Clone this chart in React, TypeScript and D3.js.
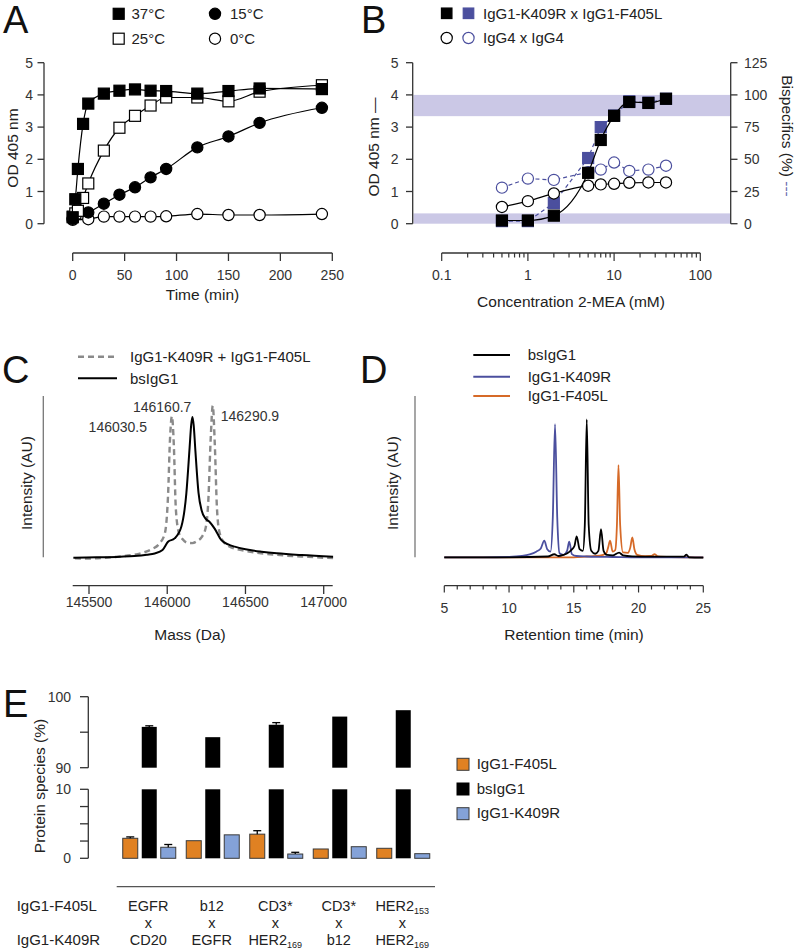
import React from 'react';
import * as d3 from 'd3';

const FONT = "'Liberation Sans', Arial, Helvetica, sans-serif";

// ---------- Panel A ----------
const timeSq = [0, 2.5, 5, 10, 15, 30, 45, 60, 75, 90, 120, 150, 180, 240];
const od37 = [0.2, 0.76, 1.7, 3.1, 3.73, 4.04, 4.13, 4.17, 4.13, 4.12, 4.04, 4.12, 4.2, 4.18];
const od25 = [0.22, 0.32, 0.4, 0.8, 1.25, 2.27, 2.98, 3.35, 3.67, 3.92, 3.92, 3.8, 4.1, 4.3];
const timeCirc = [0, 15, 30, 45, 60, 75, 90, 120, 150, 180, 240];
const od15 = [0.15, 0.35, 0.62, 0.9, 1.13, 1.44, 1.7, 2.37, 2.71, 3.13, 3.6];
const od0 = [0.12, 0.14, 0.22, 0.22, 0.22, 0.22, 0.23, 0.3, 0.27, 0.27, 0.3];
const ticksA_x = [0, 50, 100, 150, 200, 250];
const ticksA_y = [0, 1, 2, 3, 4, 5];

// ---------- Panel B ----------
const concMEA = [0.5, 1, 2, 5, 7, 10, 15, 25, 40];
const odIgG1 = [0.1, 0.1, 0.25, 1.58, 2.6, 3.35, 3.78, 3.75, 3.88];
const bsIgG1Pct = [2, 2, 16, 51, 75, 84, 95, 94, 97];
const odIgG4 = [0.52, 0.7, 0.94, 1.18, 1.22, 1.24, 1.27, 1.28, 1.28];
const bsIgG4Pct = [28, 35, 34, 40, 42, 47.5, 41, 42, 45];
const bandLow = [0, 8];
const bandHigh = [83.5, 100];
const ticksB_pct = [0, 25, 50, 75, 100, 125];
const ticksB_major = [0.1, 1, 10, 100];

// ---------- Panel C ----------
const massDashed = [145410, 145500, 145600, 145700, 145800, 145850, 145900, 145950, 145985, 146005, 146018, 146030, 146042, 146055, 146075, 146100, 146130, 146160, 146190, 146220, 146245, 146262, 146278, 146291, 146304, 146318, 146335, 146365, 146400, 146450, 146500, 146600, 146700, 146800, 146900, 147000, 147060];
const intDashed = [-0.6, -0.8, -0.3, 0.5, 1.8, 3, 5, 8.5, 15, 38, 74, 87.5, 70, 30, 15, 11, 9, 8.8, 10, 12.5, 18, 34, 74, 94, 70, 30, 15, 9, 6.5, 5, 4, 2.5, 1.5, 0.8, 0.3, -0.3, -0.5];
const massSolid = [145400, 145550, 145700, 145790, 145870, 145920, 145970, 146005, 146047, 146090, 146122, 146143, 146153, 146161, 146169, 146180, 146200, 146220, 146245, 146271, 146303, 146346, 146390, 146431, 146500, 146603, 146700, 146859, 147060];
const intSolid = [-0.3, 0, 0.4, 0.8, 1.6, 2.4, 4.5, 9.6, 11.7, 18.9, 39.5, 68, 82, 87, 82, 66, 40, 29, 24, 21.9, 17.8, 10.6, 8, 6.6, 5, 3.5, 2.5, 1.4, 0.4];
const peakLabels = ['146030.5', '146160.7', '146290.9'];
const peakMass = [146030.5, 146160.7, 146290.9];
const ticksC = [145500, 146000, 146500, 147000];

// ---------- Panel D ----------
const tK409R = [5, 8, 10, 11, 11.6, 12.1, 12.45, 12.72, 12.95, 13.2, 13.38, 13.55, 13.72, 13.9, 14.2, 14.48, 14.65, 14.85, 15.2, 16, 17, 18, 20, 22, 25];
const iK409R = [0, 0, 0.2, 0.8, 1.8, 3.5, 5.5, 10.3, 5, 3.5, 25, 82.6, 25, 2.5, 1.5, 4, 9.7, 2, 0.8, 0.5, 0.3, 0.2, 0, 0, 0];
const tBs = [5, 10, 13, 13.5, 13.8, 14.2, 14.5, 14.8, 15.05, 15.22, 15.45, 15.7, 15.85, 16.0, 16.15, 16.35, 16.65, 16.9, 17.1, 17.3, 17.55, 18, 18.5, 18.8, 19.5, 21, 23.5, 23.7, 23.9, 25];
const iBs = [0, 0, 0.5, 1.9, 0.8, 1.5, 2.5, 4.5, 7, 13, 5, 4, 20, 85.5, 20, 4, 2.2, 4, 17.4, 4, 1.5, 1.2, 2.9, 1.2, 0.6, 0.4, 0.4, 1.7, 0, -0.2];
const tF405L = [5, 15, 16, 17, 17.5, 17.65, 17.8, 18.0, 18.2, 18.33, 18.45, 18.58, 18.8, 19.2, 19.36, 19.52, 19.68, 19.9, 20.5, 21, 21.25, 21.5, 22.5, 25];
const iF405L = [0, 0, 0.5, 1, 2.5, 6, 10.3, 3.5, 4.5, 20, 57.2, 20, 3, 2.8, 6, 12.4, 5, 1.5, 0.7, 0.8, 2, 0.5, 0.2, 0];
const ticksD_major = [5, 10, 15, 20, 25];
const ticksD_minor = d3.range(5, 26, 1);

// ---------- Panel E ----------
const catF405L = ['EGFR', 'b12', 'CD3*', 'CD3*', 'HER2'];
const subF405L = ['', '', '', '', '153'];
const catK409R = ['CD20', 'EGFR', 'HER2', 'b12', 'HER2'];
const subK409R = ['', '', '169', '', '169'];
const valF405L = [2.9, 2.55, 3.5, 1.35, 1.45];
const errF405L = [0.2, 0, 0.5, 0, 0];
const valBs = [95.75, 94.3, 96.05, 97.2, 98.1];
const errBs = [0.15, 0, 0.3, 0, 0];
const valK409R = [1.6, 3.4, 0.62, 1.68, 0.67];
const errK409R = [0.4, 0, 0.25, 0, 0];
const seriesE = ['IgG1-F405L', 'bsIgG1', 'IgG1-K409R'];
const colorsE = ['#e08122', '#000000', '#84a2d8'];

const BLUE = '#4b4f9e';
const ORANGE = '#d66a28';

function Sq({ x, y, s = 11, fill = '#000', stroke = '#000' }: any) {
  return <rect x={x - s / 2} y={y - s / 2} width={s} height={s} fill={fill} stroke={stroke} strokeWidth={1.2} />;
}
function Ci({ x, y, r = 5.6, fill = '#000', stroke = '#000' }: any) {
  return <circle cx={x} cy={y} r={r} fill={fill} stroke={stroke} strokeWidth={1.2} />;
}

export default function App() {
  const tick = { fontFamily: FONT, fontSize: 14, fill: '#333' } as any;
  const title = { fontFamily: FONT, fontSize: 15.5, fill: '#222' } as any;
  const leg = { fontFamily: FONT, fontSize: 15, fill: '#222' } as any;
  const cat = { fontFamily: FONT, fontSize: 14.5, fill: '#222' } as any;
  const big = { fontFamily: FONT, fontSize: 38, fill: '#111' } as any;
  const axisCol = '#333';

  // A scales
  const xA = d3.scaleLinear().domain([0, 250]).range([72.7, 332.3]);
  const yA = d3.scaleLinear().domain([0, 5]).range([223.7, 62.7]);
  const lineA = (xs: number[], ys: number[]) =>
    d3.line<number>().x((_, i) => xA(xs[i])).y((d) => yA(d)).curve(d3.curveMonotoneX)(ys) || '';

  // B scales
  const xB = d3.scaleLog().domain([0.1, 100]).range([441.7, 700.3]);
  const yB = d3.scaleLinear().domain([0, 5]).range([223.7, 62.7]);
  const yBr = d3.scaleLinear().domain([0, 125]).range([223.7, 62.7]);
  const lineB = (ys: number[], y: any, curve: any) =>
    d3.line<number>().x((_, i) => xB(concMEA[i])).y((d) => y(d)).curve(curve)(ys) || '';
  const minorB = xB.ticks();

  // C scales
  const xC = d3.scaleLinear().domain([145500, 147000]).range([89, 323.7]);
  const yC = d3.scaleLinear().domain([0, 100]).range([557.3, 396]);
  const lineC = (xs: number[], ys: number[]) =>
    d3.line<number>().x((_, i) => xC(xs[i])).y((d) => yC(d)).curve(d3.curveMonotoneX)(ys) || '';

  // D scales
  const xD = d3.scaleLinear().domain([5, 25]).range([444.3, 703.3]);
  const yD = d3.scaleLinear().domain([0, 100]).range([557.3, 396]);
  const lineD = (xs: number[], ys: number[]) =>
    d3.line<number>().x((_, i) => xD(xs[i])).y((d) => yD(d)).curve(d3.curveMonotoneX)(ys) || '';

  // E scales
  const xE = d3.scaleBand<number>().domain(d3.range(5)).range([117.5, 435]);
  const xInner = d3.scaleBand<string>().domain(seriesE).range([-26.5, 26.5]).paddingInner(0.2105);
  const yLo = d3.scaleLinear().domain([0, 10]).range([858.3, 789.3]);
  const yHi = d3.scaleLinear().domain([90, 100]).range([767.7, 696.7]);
  const valsE = [valF405L, valBs, valK409R];
  const errsE = [errF405L, errBs, errK409R];

  return (
    <svg width={799} height={952} style={{ position: 'absolute', left: 0, top: 0, background: '#fff' }}>
      <rect x={0} y={0} width={799} height={952} fill="#fff" />

      {/* ================= A ================= */}
      <text x={3} y={33} {...big}>A</text>
      <Sq x={118.7} y={13.8} />
      <text x={131.5} y={19} {...leg}>37°C</text>
      <Sq x={118.7} y={38.7} fill="#fff" />
      <text x={131.5} y={44} {...leg}>25°C</text>
      <Ci x={215} y={13.8} />
      <text x={230} y={19} {...leg}>15°C</text>
      <Ci x={215} y={38.7} fill="#fff" />
      <text x={230} y={44} {...leg}>0°C</text>

      <line x1={44} x2={44} y1={yA(5)} y2={yA(0)} stroke={axisCol} strokeWidth={1.3} />
      {ticksA_y.map((t) => (
        <g key={t}>
          <line x1={37.5} x2={44} y1={yA(t)} y2={yA(t)} stroke={axisCol} strokeWidth={1.3} />
          <text x={33} y={yA(t) + 5} textAnchor="end" {...tick}>{t}</text>
        </g>
      ))}
      <line x1={xA(0)} x2={xA(250)} y1={253} y2={253} stroke={axisCol} strokeWidth={1.3} />
      {ticksA_x.map((t) => (
        <g key={t}>
          <line x1={xA(t)} x2={xA(t)} y1={253} y2={261} stroke={axisCol} strokeWidth={1.3} />
          <text x={xA(t)} y={280} textAnchor="middle" {...tick}>{t}</text>
        </g>
      ))}
      <text x={xA(125)} y={300} textAnchor="middle" {...title}>Time (min)</text>
      <text transform="translate(18,148) rotate(-90)" textAnchor="middle" {...title}>OD 405 nm</text>

      <path d={lineA(timeCirc, od0)} fill="none" stroke="#000" strokeWidth={1.2} />
      <path d={lineA(timeCirc, od15)} fill="none" stroke="#000" strokeWidth={1.2} />
      <path d={lineA(timeSq, od25)} fill="none" stroke="#000" strokeWidth={1.2} />
      <path d={lineA(timeSq, od37)} fill="none" stroke="#000" strokeWidth={1.2} />
      {timeCirc.map((t, i) => <Ci key={'a0' + i} x={xA(t)} y={yA(od0[i])} fill="#fff" />)}
      {timeCirc.map((t, i) => <Ci key={'a15' + i} x={xA(t)} y={yA(od15[i])} />)}
      {timeSq.map((t, i) => <Sq key={'a25' + i} x={xA(t)} y={yA(od25[i])} fill="#fff" />)}
      {timeSq.map((t, i) => <Sq key={'a37' + i} x={xA(t)} y={yA(od37[i])} />)}

      {/* ================= B ================= */}
      <text x={361} y={33} {...big}>B</text>
      <Sq x={446.7} y={13.3} s={10.5} />
      <Sq x={468.5} y={13.3} s={10.5} fill={BLUE} stroke={BLUE} />
      <text x={483} y={18.5} {...leg}>IgG1-K409R x IgG1-F405L</text>
      <Ci x={446.7} y={38} fill="#fff" />
      <Ci x={468.5} y={38} fill="#fff" stroke={BLUE} />
      <text x={483} y={43} {...leg}>IgG4 x IgG4</text>

      <rect x={413.5} width={317} y={yBr(bandHigh[1])} height={yBr(bandHigh[0]) - yBr(bandHigh[1])} fill="#cbc8e6" />
      <rect x={413.5} width={317} y={yBr(bandLow[1])} height={yBr(bandLow[0]) - yBr(bandLow[1])} fill="#cbc8e6" />

      <line x1={412.7} x2={412.7} y1={yB(5)} y2={yB(0)} stroke={axisCol} strokeWidth={1.3} />
      {ticksA_y.map((t) => (
        <g key={'bl' + t}>
          <line x1={406} x2={412.7} y1={yB(t)} y2={yB(t)} stroke={axisCol} strokeWidth={1.3} />
          <text x={398.5} y={yB(t) + 5} textAnchor="end" {...tick}>{t}</text>
        </g>
      ))}
      <line x1={730.7} x2={730.7} y1={yBr(125)} y2={yBr(0)} stroke={axisCol} strokeWidth={1.3} />
      {ticksB_pct.map((t) => (
        <g key={'br' + t}>
          <line x1={730.7} x2={737.5} y1={yBr(t)} y2={yBr(t)} stroke={axisCol} strokeWidth={1.3} />
          <text x={744} y={yBr(t) + 5} {...tick}>{t}</text>
        </g>
      ))}
      <line x1={xB(0.1)} x2={xB(100)} y1={253} y2={253} stroke={axisCol} strokeWidth={1.3} />
      {minorB.map((t, i) => {
        const major = ticksB_major.some((m) => Math.abs(m - t) / m < 1e-6);
        return <line key={'bm' + i} x1={xB(t)} x2={xB(t)} y1={253} y2={major ? 261 : 257.5} stroke={axisCol} strokeWidth={1.2} />;
      })}
      {ticksB_major.map((t) => (
        <text key={'bt' + t} x={xB(t)} y={280} textAnchor="middle" {...tick}>{t}</text>
      ))}
      <text x={571} y={307} textAnchor="middle" {...title}>Concentration 2-MEA (mM)</text>
      <text transform="translate(378.5,147) rotate(-90)" textAnchor="middle" {...title}>OD 405 nm —</text>
      <text transform="translate(782,136) rotate(90)" textAnchor="middle" {...title}>
        Bispecifics (%) <tspan fill="#6a6eae">---</tspan>
      </text>

      <path d={lineB(bsIgG4Pct, yBr, d3.curveLinear)} fill="none" stroke={BLUE} strokeWidth={1.2} strokeDasharray="4,3" />
      <path d={lineB(bsIgG1Pct, yBr, d3.curveLinear)} fill="none" stroke={BLUE} strokeWidth={1.2} strokeDasharray="4,3" />
      {concMEA.map((c, i) => <Ci key={'b4p' + i} x={xB(c)} y={yBr(bsIgG4Pct[i])} fill="#fff" stroke={BLUE} />)}
      {concMEA.map((c, i) => <Sq key={'b1p' + i} x={xB(c)} y={yBr(bsIgG1Pct[i])} fill={BLUE} stroke={BLUE} />)}
      <path d={lineB(odIgG4, yB, d3.curveMonotoneX)} fill="none" stroke="#000" strokeWidth={1.2} />
      <path d={lineB(odIgG1, yB, d3.curveMonotoneX)} fill="none" stroke="#000" strokeWidth={1.2} />
      {concMEA.map((c, i) => <Ci key={'b4' + i} x={xB(c)} y={yB(odIgG4[i])} fill="#fff" />)}
      {concMEA.map((c, i) => <Sq key={'b1' + i} x={xB(c)} y={yB(odIgG1[i])} />)}

      {/* ================= C ================= */}
      <text x={2} y={383} {...big}>C</text>
      <line x1={78} x2={117} y1={356.7} y2={356.7} stroke="#8a8a8a" strokeWidth={2.4} strokeDasharray="6,4" />
      <text x={130} y={361.5} {...leg}>IgG1-K409R + IgG1-F405L</text>
      <line x1={78} x2={117} y1={378.3} y2={378.3} stroke="#000" strokeWidth={2} />
      <text x={130} y={383.5} {...leg}>bsIgG1</text>

      <line x1={43.3} x2={43.3} y1={396} y2={557.3} stroke="#777" strokeWidth={1.3} />
      <text transform="translate(32,483) rotate(-90)" textAnchor="middle" {...title}>Intensity (AU)</text>
      <line x1={72.7} x2={332.7} y1={585.7} y2={585.7} stroke={axisCol} strokeWidth={1.3} />
      {ticksC.map((t) => (
        <g key={'c' + t}>
          <line x1={xC(t)} x2={xC(t)} y1={585.7} y2={594} stroke={axisCol} strokeWidth={1.3} />
          <text x={xC(t)} y={606.5} textAnchor="middle" {...tick}>{t}</text>
        </g>
      ))}
      <text x={190} y={640} textAnchor="middle" {...title}>Mass (Da)</text>

      <path d={lineC(massDashed, intDashed)} fill="none" stroke="#8a8a8a" strokeWidth={2.4} strokeDasharray="6,4" />
      <path d={lineC(massSolid, intSolid)} fill="none" stroke="#000" strokeWidth={2} />
      <text x={xC(peakMass[0]) - 25} y={432} textAnchor="end" {...tick}>{peakLabels[0]}</text>
      <text x={xC(peakMass[1]) - 1} y={411.5} textAnchor="end" {...tick}>{peakLabels[1]}</text>
      <text x={xC(peakMass[2]) + 8} y={421} {...tick}>{peakLabels[2]}</text>

      {/* ================= D ================= */}
      <text x={360} y={383} {...big}>D</text>
      <line x1={473.3} x2={510} y1={355} y2={355} stroke="#000" strokeWidth={2} />
      <text x={527.7} y={360} {...leg}>bsIgG1</text>
      <line x1={473.3} x2={510} y1={376.7} y2={376.7} stroke={BLUE} strokeWidth={2} />
      <text x={527.7} y={381.5} {...leg}>IgG1-K409R</text>
      <line x1={473.3} x2={510} y1={396} y2={396} stroke={ORANGE} strokeWidth={2} />
      <text x={527.7} y={401} {...leg}>IgG1-F405L</text>

      <line x1={415} x2={415} y1={396} y2={557.3} stroke="#777" strokeWidth={1.3} />
      <text transform="translate(398,483) rotate(-90)" textAnchor="middle" {...title}>Intensity (AU)</text>
      <line x1={xD(5)} x2={xD(25)} y1={585.7} y2={585.7} stroke={axisCol} strokeWidth={1.3} />
      {ticksD_minor.map((t) => (
        <line key={'dm' + t} x1={xD(t)} x2={xD(t)} y1={585.7} y2={t % 5 === 0 ? 592.5 : 589.5} stroke={axisCol} strokeWidth={1.2} />
      ))}
      {ticksD_major.map((t) => (
        <text key={'dt' + t} x={xD(t)} y={612.5} textAnchor="middle" {...tick}>{t}</text>
      ))}
      <text x={574} y={640} textAnchor="middle" {...title}>Retention time (min)</text>

      <path d={lineD(tF405L, iF405L)} fill="none" stroke={ORANGE} strokeWidth={1.8} />
      <path d={lineD(tK409R, iK409R)} fill="none" stroke={BLUE} strokeWidth={1.8} />
      <path d={lineD(tBs, iBs)} fill="none" stroke="#000" strokeWidth={1.8} />

      {/* ================= E ================= */}
      <text x={3} y={717} {...big}>E</text>
      <line x1={88.3} x2={88.3} y1={yHi(100)} y2={yHi(90)} stroke={axisCol} strokeWidth={1.3} />
      {[100, 95, 90].map((t) => (
        <line key={'eh' + t} x1={80} x2={88.3} y1={yHi(t)} y2={yHi(t)} stroke={axisCol} strokeWidth={1.3} />
      ))}
      <line x1={88.3} x2={88.3} y1={yLo(10)} y2={yLo(0)} stroke={axisCol} strokeWidth={1.3} />
      {[10, 7.5, 5, 2.5, 0].map((t) => (
        <line key={'el' + t} x1={80} x2={88.3} y1={yLo(t)} y2={yLo(t)} stroke={axisCol} strokeWidth={1.3} />
      ))}
      <text x={71} y={yHi(100) + 5} textAnchor="end" {...tick}>100</text>
      <text x={71} y={yHi(90) + 5} textAnchor="end" {...tick}>90</text>
      <text x={71} y={yLo(10) + 5} textAnchor="end" {...tick}>10</text>
      <text x={71} y={yLo(0) + 5} textAnchor="end" {...tick}>0</text>
      <text transform="translate(45,786) rotate(-90)" textAnchor="middle" {...title}>Protein species (%)</text>

      {d3.range(5).map((g) => {
        const cx = (xE(g) as number) + xE.bandwidth() / 2;
        return seriesE.map((s, si) => {
          const v = valsE[si][g];
          const e = errsE[si][g];
          const x0 = cx + (xInner(s) as number);
          const w = xInner.bandwidth();
          const stroke = si === 1 ? 'none' : '#3a3a3a';
          if (si === 1) {
            return (
              <g key={'e' + g + s}>
                <rect x={x0} width={w} y={yLo(10)} height={yLo(0) - yLo(10)} fill={colorsE[si]} />
                <rect x={x0} width={w} y={yHi(v)} height={yHi(90) - yHi(v)} fill={colorsE[si]} />
                {e > 0 && (
                  <g stroke="#000" strokeWidth={1.3}>
                    <line x1={x0 + w / 2} x2={x0 + w / 2} y1={yHi(v)} y2={yHi(v + e)} />
                    <line x1={x0 + w / 2 - 4} x2={x0 + w / 2 + 4} y1={yHi(v + e)} y2={yHi(v + e)} />
                  </g>
                )}
              </g>
            );
          }
          return (
            <g key={'e' + g + s}>
              <rect x={x0} width={w} y={yLo(v)} height={yLo(0) - yLo(v)} fill={colorsE[si]} stroke={stroke} strokeWidth={1} />
              {e > 0 && (
                <g stroke="#000" strokeWidth={1.3}>
                  <line x1={x0 + w / 2} x2={x0 + w / 2} y1={yLo(v)} y2={yLo(v + e)} />
                  <line x1={x0 + w / 2 - 4} x2={x0 + w / 2 + 4} y1={yLo(v + e)} y2={yLo(v + e)} />
                </g>
              )}
            </g>
          );
        });
      })}

      <line x1={116.7} x2={435} y1={886.7} y2={886.7} stroke="#555" strokeWidth={1.3} />
      <text x={16.7} y={911} {...leg}>IgG1-F405L</text>
      <text x={16.7} y={945} {...leg}>IgG1-K409R</text>
      {d3.range(5).map((g) => {
        const cx = (xE(g) as number) + xE.bandwidth() / 2 - 1;
        return (
          <g key={'lab' + g}>
            <text x={cx} y={910.5} textAnchor="middle" {...cat}>
              {catF405L[g]}
              {subF405L[g] && <tspan fontSize={9} dy={3}>{subF405L[g]}</tspan>}
            </text>
            <text x={cx} y={927.5} textAnchor="middle" {...cat}>x</text>
            <text x={cx} y={945} textAnchor="middle" {...cat}>
              {catK409R[g]}
              {subK409R[g] && <tspan fontSize={9} dy={3}>{subK409R[g]}</tspan>}
            </text>
          </g>
        );
      })}

      {seriesE.map((s, i) => (
        <g key={'leg' + s}>
          <rect x={457} y={758.3 + i * 24.7} width={12} height={12} fill={colorsE[i]} stroke={i === 1 ? '#000' : '#3a3a3a'} strokeWidth={1} />
          <text x={476.7} y={769 + i * 24.7} {...leg}>{s}</text>
        </g>
      ))}
    </svg>
  );
}
